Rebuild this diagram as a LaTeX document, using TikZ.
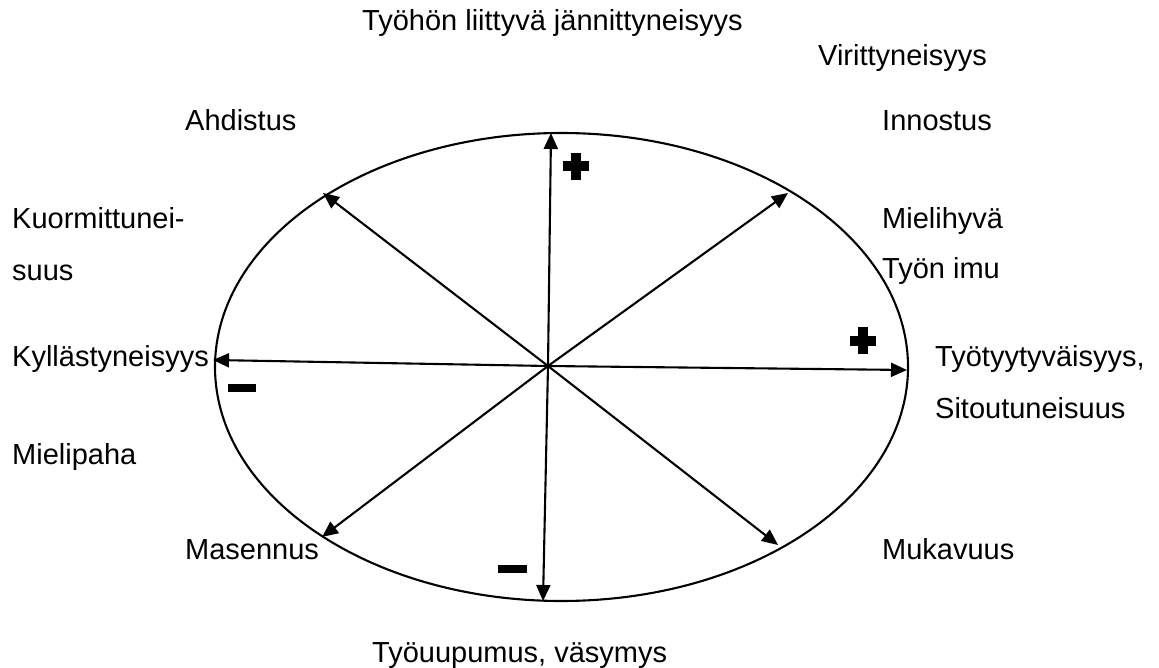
\documentclass[tikz,border=0pt]{standalone}
\usepackage{fontspec}
\setmainfont{Liberation Sans}
\usetikzlibrary{arrows.meta}
\begin{document}
\begin{tikzpicture}[x=1pt,y=-1pt,
  lbl/.style={anchor=base west, inner sep=0pt, font=\fontsize{29}{34}\selectfont},
  arr/.style={line width=2.1pt, -{Triangle[length=16pt,width=14pt]}},
  ring/.style={line width=2.1pt}]
\useasboundingbox (0,0) rectangle (1159,668);
% ellipse
\draw[ring] (561.5,367) ellipse [x radius=346.5, y radius=234];
% centre and arrow ends
\coordinate (c) at (548,366);
\coordinate (tN) at (551,133);
\coordinate (tS) at (543,601);
\coordinate (tW) at (213,360);
\coordinate (tE) at (907,370);
\coordinate (tNW) at (323,193);
\coordinate (tNE) at (788,193);
\coordinate (tSE) at (778,545);
\coordinate (tSW) at (322,537);
\draw[arr] (c) -- (tN);
\draw[arr] (c) -- (tS);
\draw[arr] (c) -- (tW);
\draw[arr] (c) -- (tE);
\draw[arr] (c) -- (tNW);
\draw[arr] (c) -- (tNE);
\draw[arr] (c) -- (tSE);
\draw[arr] (c) -- (tSW);
% plus signs
\fill (571,153) rectangle (581,180);
\fill (563,161.5) rectangle (589,171.5);
\fill (858,327) rectangle (868,354);
\fill (850,335.5) rectangle (876,345.5);
% minus signs
\fill (228,384) rectangle (256,392);
\fill (498,565) rectangle (527,573);
% labels
\node[lbl] (top) at (362,31) {Työhön liittyvä jännittyneisyys};
\node[lbl] (vir) at (818,66) {Virittyneisyys};
\node[lbl] (ahd) at (185,131) {Ahdistus};
\node[lbl] (inn) at (882,131) {Innostus};
\node[lbl] (kuo1) at (12,229) {Kuormittunei-};
\node[lbl] (kuo2) at (12,281) {suus};
\node[lbl] (mie) at (882,229) {Mielihyvä};
\node[lbl] (imu) at (882,279) {Työn imu};
\node[lbl] (kyl) at (12,366) {Kyllästyneisyys};
\node[lbl] (tyy) at (935,366) {Työtyytyväisyys,};
\node[lbl] (sit) at (935,418) {Sitoutuneisuus};
\node[lbl] (mpa) at (12,464) {Mielipaha};
\node[lbl] (mas) at (185,559) {Masennus};
\node[lbl] (muk) at (882,559) {Mukavuus};
\node[lbl] (uup) at (372,662) {Työuupumus, väsymys};
\end{tikzpicture}
\end{document}
